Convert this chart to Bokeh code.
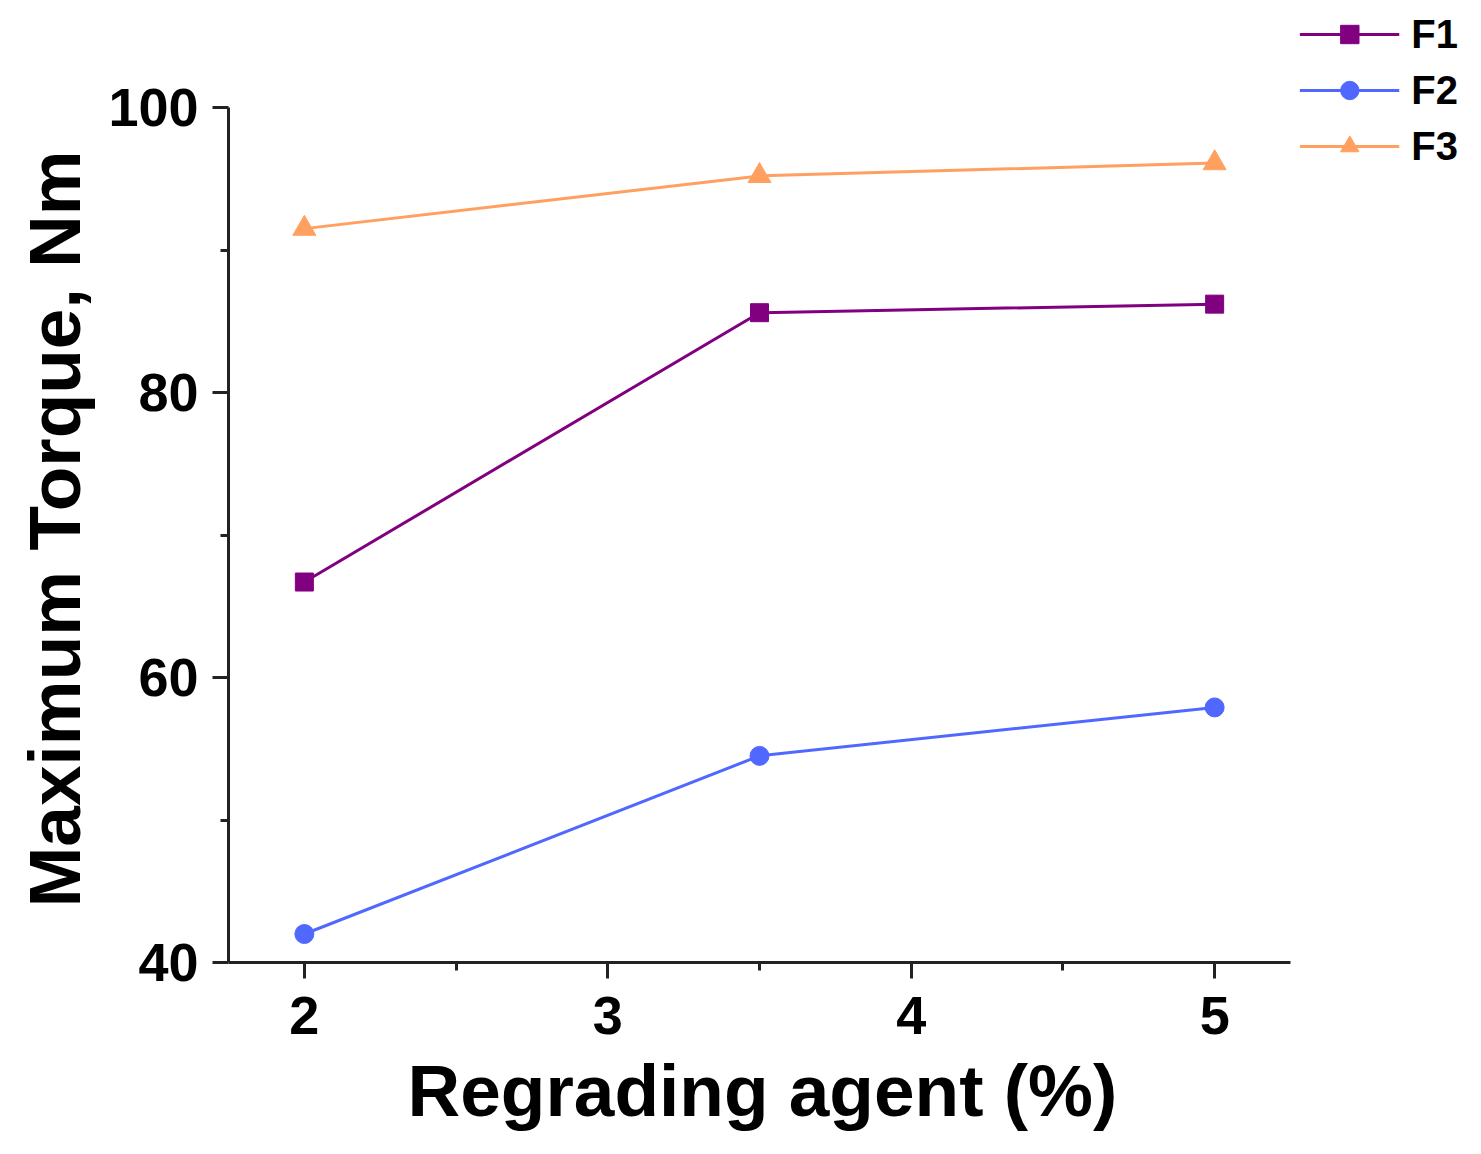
from bokeh.plotting import figure
from bokeh.models import Range1d, Legend, LegendItem, FixedTicker, Title
from bokeh.embed import file_html
from bokeh.resources import INLINE

x_vals = [2, 3.5, 5]
f1 = [66.7, 85.6, 86.2]
f2 = [42.0, 54.5, 57.9]
f3 = [91.5, 95.2, 96.1]
series_names = ["F1", "F2", "F3"]
colors = ["#800080", "#5068FF", "#FFA060"]
x_ticks = [2, 3, 4, 5]
x_minor = [2.5, 3.5, 4.5]
y_ticks = [40, 60, 80, 100]
y_minor = [50, 70, 90]
x_title = "Regrading agent (%)"
y_title = "Maximum Torque, Nm"

FONT = "Liberation Sans"
W, H = 1470, 1145
left, top, right = 228, 11, 12
frame_bottom = 962
bottom = H - frame_bottom
frame_right = W - right
px_x = (1290 - 228) / 3.5
px_y = (962 - 107) / 60.0
x_end = 5.25 + (frame_right - 1290) / px_x
y_end = 100 + (107 - top) / px_y

p = figure(width=W, height=H, output_backend="svg", toolbar_location=None,
           x_range=Range1d(1.75, x_end), y_range=Range1d(40, y_end),
           min_border_left=left, min_border_right=right,
           min_border_top=top, min_border_bottom=bottom)
p.outline_line_color = None
p.grid.visible = False
p.background_fill_color = "white"

r1 = p.line(x_vals, f1, line_color=colors[0], line_width=3)
m1 = p.scatter(x_vals, f1, marker="square", size=18, fill_color=colors[0], line_color=colors[0])
r2 = p.line(x_vals, f2, line_color=colors[1], line_width=3)
m2 = p.scatter(x_vals, f2, marker="circle", size=19, fill_color=colors[1], line_color=colors[1])
r3 = p.line(x_vals, f3, line_color=colors[2], line_width=3)
m3 = p.scatter(x_vals, f3, marker="triangle", size=23, fill_color=colors[2], line_color=colors[2])

for ax in (p.xaxis[0], p.yaxis[0]):
    ax.axis_line_color = "#222222"
    ax.axis_line_width = 3
    ax.major_tick_line_color = "#222222"
    ax.minor_tick_line_color = "#222222"
    ax.major_tick_line_width = 3
    ax.minor_tick_line_width = 3
    ax.major_tick_out = 16
    ax.major_tick_in = 0
    ax.minor_tick_out = 8
    ax.minor_tick_in = 0
    ax.major_label_text_font = FONT
    ax.major_label_text_font_style = "bold"
    ax.major_label_text_font_size = "54px"
    ax.major_label_text_color = "black"

p.xaxis.bounds = (1.75, 5.25)
p.yaxis.bounds = (40, 100)
p.xaxis.ticker = FixedTicker(ticks=x_ticks, minor_ticks=x_minor)
p.yaxis.ticker = FixedTicker(ticks=y_ticks, minor_ticks=y_minor)
p.xaxis.major_label_standoff = 18
p.yaxis.major_label_standoff = 14

xt = Title(text=x_title, align="left", offset=407 - left,
           text_font=FONT, text_font_style="bold", text_font_size="73px",
           text_color="black", standoff=22)
p.add_layout(xt, "below")
yt = Title(text=y_title, align="left", offset=frame_bottom - 907,
           text_font=FONT, text_font_style="bold", text_font_size="73px",
           text_color="black", standoff=22)
p.add_layout(yt, "left")

legend = Legend(items=[
    LegendItem(label=series_names[0], renderers=[r1, m1]),
    LegendItem(label=series_names[1], renderers=[r2, m2]),
    LegendItem(label=series_names[2], renderers=[r3, m3]),
], location="top_right")
legend.border_line_color = None
legend.background_fill_alpha = 0
legend.margin = 0
legend.padding = 4
legend.glyph_width = 100
legend.glyph_height = 46
legend.spacing = 10
legend.label_standoff = 12
legend.label_text_font = FONT
legend.label_text_font_style = "bold"
legend.label_text_font_size = "40px"
legend.label_text_color = "black"
p.add_layout(legend)

open("out.html", "w").write(file_html(p, INLINE))
